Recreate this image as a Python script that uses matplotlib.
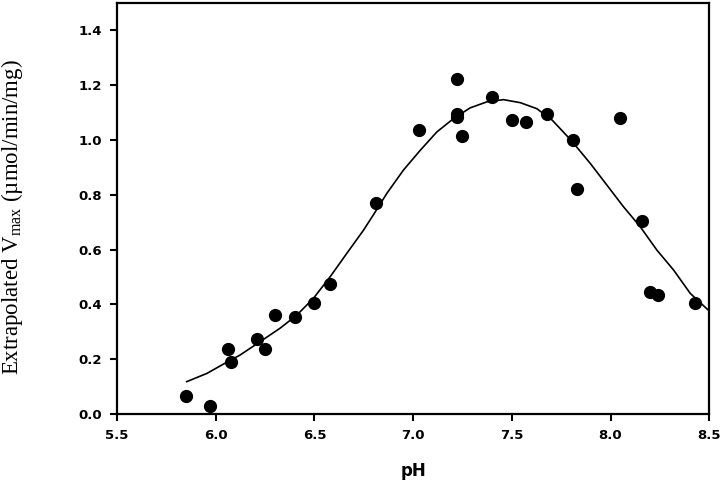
import numpy as np
import matplotlib.pyplot as plt

plt.rcParams['mathtext.fontset'] = 'custom'
plt.rcParams['mathtext.rm'] = 'Liberation Serif'

# measured points
ph = [5.85, 5.97, 6.06, 6.08, 6.21, 6.25, 6.30, 6.40, 6.50, 6.58,
      6.81, 7.03, 7.22, 7.22, 7.22, 7.25, 7.40, 7.50, 7.57, 7.68,
      7.81, 7.83, 8.05, 8.16, 8.20, 8.24, 8.43]
vmax = [0.066, 0.029, 0.237, 0.191, 0.273, 0.236, 0.361, 0.354, 0.406, 0.473,
        0.770, 1.035, 1.221, 1.096, 1.082, 1.015, 1.155, 1.074, 1.066, 1.096,
        1.001, 0.820, 1.080, 0.704, 0.444, 0.436, 0.406]

# fitted curve
fit_ph = [5.853, 5.955, 6.039, 6.123, 6.225, 6.326, 6.411, 6.495, 6.580, 6.664,
          6.749, 6.800, 6.867, 6.951, 7.036, 7.120, 7.205, 7.289, 7.374, 7.458,
          7.543, 7.627, 7.705, 7.800, 7.898, 7.982, 8.066, 8.151, 8.235, 8.320,
          8.404, 8.500]
fit_v = [0.118, 0.148, 0.182, 0.215, 0.264, 0.313, 0.361, 0.422, 0.501, 0.586,
         0.671, 0.728, 0.805, 0.890, 0.962, 1.029, 1.078, 1.117, 1.139, 1.147,
         1.136, 1.114, 1.072, 0.999, 0.914, 0.835, 0.756, 0.683, 0.598, 0.525,
         0.440, 0.376]

xticks = [5.5, 6.0, 6.5, 7.0, 7.5, 8.0, 8.5]
yticks = [0.0, 0.2, 0.4, 0.6, 0.8, 1.0, 1.2, 1.4]

fig = plt.figure(figsize=(7.2, 4.84), dpi=100)
ax = fig.add_axes([0.1625, 0.1446, 0.8225, 0.8494])

ax.plot(fit_ph, fit_v, color='black', lw=1.2)
ax.plot(ph, vmax, 'o', color='black', ms=8.5)

ax.set_xlim(5.5, 8.5)
ax.set_ylim(0, 1.5)
ax.set_xticks(xticks)
ax.set_yticks(yticks)
ax.set_xticklabels(['%.1f' % v for v in xticks], fontweight='bold', fontsize=9.5)
ax.set_yticklabels(['%.1f' % v for v in yticks], fontweight='bold', fontsize=9.5)
ax.tick_params(direction='out', length=5, width=1.5, pad=6)
for s in ax.spines.values():
    s.set_linewidth(1.6)

ax.set_xlabel('pH', fontweight='bold', fontsize=12, labelpad=14)
ax.set_ylabel('Extrapolated V$_{\\rm max}$ (\u00b5mol/min/mg)',
              family='Liberation Serif', fontsize=16.5)
ax.yaxis.set_label_coords(-0.155, 0.479)

fig.savefig('out.png', dpi=100)
